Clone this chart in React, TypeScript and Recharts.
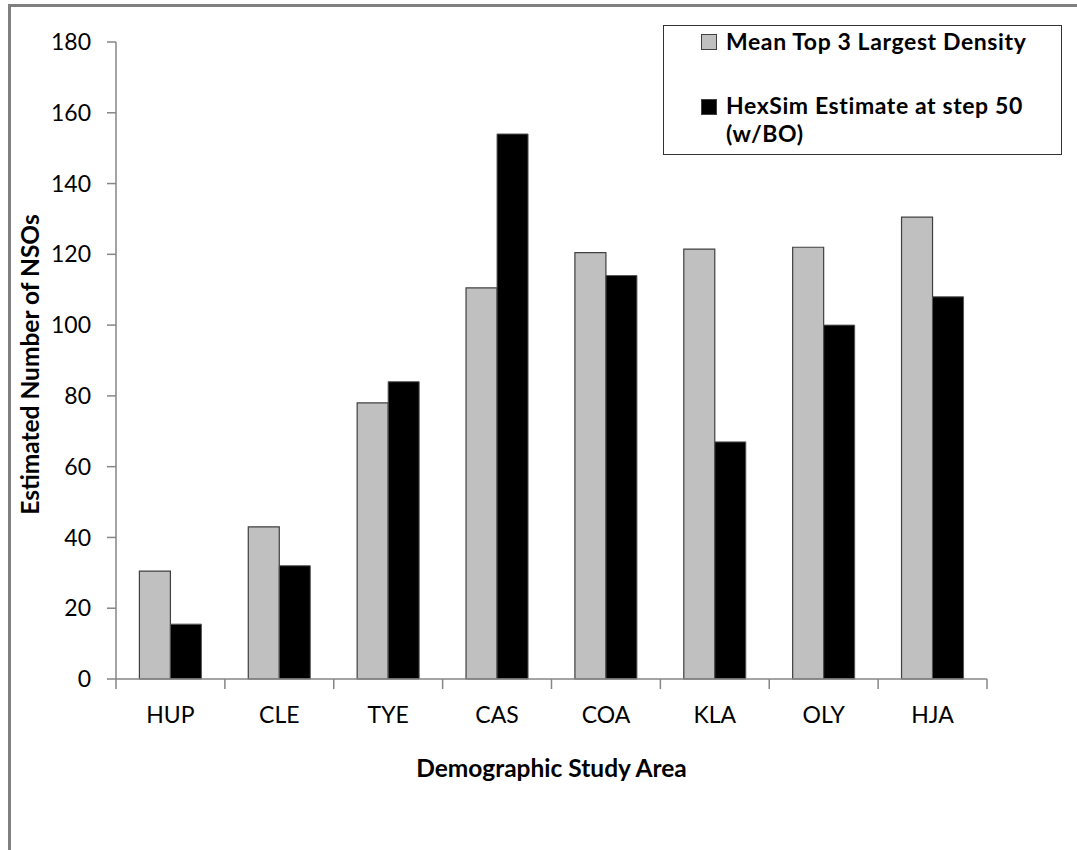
import React from 'react';
import { BarChart, Bar, XAxis, YAxis, Legend, Label } from 'recharts';

// study areas and the two series
const areas = ['HUP', 'CLE', 'TYE', 'CAS', 'COA', 'KLA', 'OLY', 'HJA'];
const meanTop3 = [30.5, 43, 78, 110.5, 120.5, 121.5, 122, 130.5];
const hexSim = [15.5, 32, 84, 154, 114, 67, 100, 108];
const yTicks = [0, 20, 40, 60, 80, 100, 120, 140, 160, 180];

const W = 1077;
const H = 850;
const margin = { top: 42, right: 90, left: 56, bottom: 141 };
const Y_W = 60;
const bandWidth = (W - margin.left - Y_W - margin.right) / areas.length;

const FONT = 'Lato, "Open Sans", sans-serif';
const AXIS = '#868686';
const TICK_FS = 23;
const BOLD_FS = 24.5;
const LEGEND_FS = 23;

const data = areas.map((a, i) => ({ area: a, mean: meanTop3[i], hex: hexSim[i] }));

// excel style: tick marks sit between the categories, label in the middle
const CategoryTick = (props: any) => {
  const { x, y, payload, index } = props;
  const left = x - bandWidth / 2;
  return (
    <g>
      <line x1={left} x2={left} y1={y} y2={y + 10} stroke={AXIS} strokeWidth={1.5} />
      {index === areas.length - 1 && (
        <line x1={left + bandWidth} x2={left + bandWidth} y1={y} y2={y + 10} stroke={AXIS} strokeWidth={1.5} />
      )}
      <text x={x} y={y + 44} textAnchor="middle" fontFamily={FONT} fontSize={TICK_FS} fill="#000">
        {payload.value}
      </text>
    </g>
  );
};

const LegendBox = () => {
  const sq = (fill: string, top: number) => (
    <div style={{ position: 'absolute', left: 37, top, width: 14, height: 14, background: fill, border: '1px solid #404040' }} />
  );
  const txt: React.CSSProperties = {
    position: 'absolute', left: 62, height: 28, fontFamily: FONT, fontWeight: 700, fontSize: LEGEND_FS,
    letterSpacing: 0.6, lineHeight: '28px', color: '#000', whiteSpace: 'nowrap', textAlign: 'left',
  };
  return (
    <div style={{ position: 'relative', width: 397, height: 128, border: '1.5px solid #333', background: '#fff' }}>
      {sq('#c0c0c0', 8)}
      <div style={{ ...txt, top: 1 }}>Mean Top 3 Largest Density</div>
      {sq('#000', 73)}
      <div style={{ ...txt, top: 65 }}>HexSim Estimate at step 50</div>
      <div style={{ ...txt, top: 93 }}>(w/BO)</div>
    </div>
  );
};

export default function App() {
  return (
    <div style={{ position: 'absolute', left: 0, top: 0, width: W, height: H, background: '#fff', overflow: 'hidden' }}>
      <div
        style={{
          position: 'absolute', left: 8, top: 4, width: W, height: H,
          borderTop: '3px solid #808080', borderLeft: '3px solid #808080',
        }}
      />
      <div style={{ position: 'absolute', left: 0, top: 0 }}>
        <BarChart width={W} height={H} data={data} margin={margin} barCategoryGap="21.5%" barGap={0}>
          <XAxis
            dataKey="area"
            stroke={AXIS}
            strokeWidth={1.5}
            tickLine={false}
            tickSize={0}
            tickMargin={0}
            height={30}
            interval={0}
            tick={<CategoryTick />}
          >
            <Label
              content={(p: any) => {
                const vb = p.viewBox;
                return (
                  <text x={vb.x + vb.width / 2} y={777} textAnchor="middle" fontFamily={FONT} fontWeight={700} fontSize={BOLD_FS} fill="#000">
                    Demographic Study Area
                  </text>
                );
              }}
            />
          </XAxis>
          <YAxis
            width={Y_W}
            domain={[0, 180]}
            ticks={yTicks}
            interval={0}
            stroke={AXIS}
            strokeWidth={1.5}
            tickSize={9}
            tickMargin={16}
            tick={{ fontFamily: FONT, fontSize: TICK_FS, fill: '#000' }}
          >
            <Label
              content={(p: any) => {
                const vb = p.viewBox;
                const cy = vb.y + vb.height / 2 + 4;
                return (
                  <text
                    x={29}
                    y={cy}
                    transform={`rotate(-90 29 ${cy})`}
                    textAnchor="middle"
                    dominantBaseline="central"
                    fontFamily={FONT}
                    fontWeight={700}
                    fontSize={BOLD_FS}
                    fill="#000"
                  >
                    Estimated Number of NSOs
                  </text>
                );
              }}
            />
          </YAxis>
          <Legend
            layout="vertical"
            align="center"
            verticalAlign="middle"
            wrapperStyle={{ top: 25, left: 663, width: 400, height: 131 }}
            content={<LegendBox />}
          />
          <Bar dataKey="mean" name="Mean Top 3 Largest Density" fill="#c0c0c0" stroke="#404040" strokeWidth={1.2} isAnimationActive={false} />
          <Bar dataKey="hex" name="HexSim Estimate at step 50 (w/BO)" fill="#000" stroke="#555" strokeWidth={1} isAnimationActive={false} />
        </BarChart>
      </div>
    </div>
  );
}
